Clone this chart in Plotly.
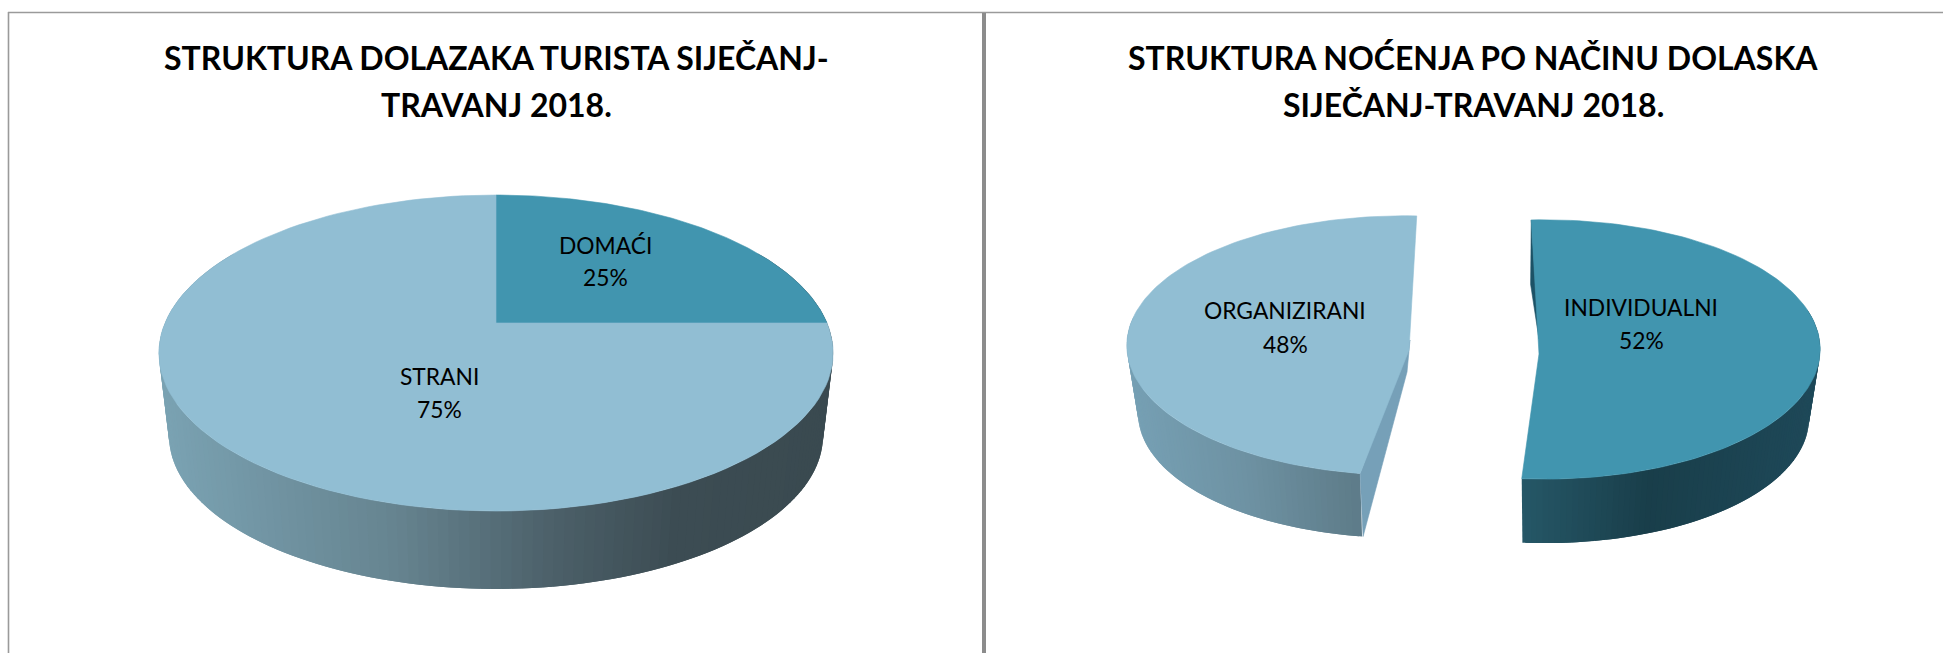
import numpy as np
import plotly.graph_objects as go

# ---- data ----
titles_left = ["STRUKTURA DOLAZAKA TURISTA SIJEČANJ-", "TRAVANJ 2018."]
labels_left = ["DOMAĆI", "STRANI"]
values_left = [25, 75]

titles_right = ["STRUKTURA NOĆENJA PO NAČINU DOLASKA", "SIJEČANJ-TRAVANJ 2018."]
labels_right = ["ORGANIZIRANI", "INDIVIDUALNI"]
values_right = [48, 52]

# ---- style ----
W, H = 1943, 653
LIGHT = "rgb(145,190,211)"
DARK = "rgb(65,149,175)"
FONT = "Lato"
TITLE_SIZE = 32
LABEL_SIZE = 22.8
GREY = "#9a9a9a"

# perspective geometry of the drawn disc: centre, half axes, perspective, wall
GEOM_L = dict(cx=496, cy=323, A=331, B=152.3, k=0.19, f=0.97, d=83.6, bend=0)
GEOM_RL = dict(cx=1409, cy=350, A=282, B=129.5, k=-0.035, f=0.96, d=68, bend=-4)
GEOM_RR = dict(cx=1539, cy=354, A=281, B=129.5, k=-0.035, f=0.96, d=69, bend=5)

WALL_L = [(0.0, (122, 162, 178)), (0.35, (102, 132, 144)), (0.6, (75, 95, 104)), (0.78, (60, 76, 83)), (1.0, (58, 74, 80))]
WALL_RL = [(0.0, (118, 160, 180)), (0.5, (110, 146, 163)), (1.0, (93, 123, 136))]
WALL_RR = [(0.0, (38, 88, 104)), (0.45, (25, 62, 74)), (1.0, (30, 72, 88))]


def top(g, theta, r=1.0):
    t = np.radians(theta)
    u, v = r * np.sin(t), r * np.cos(t)
    den = 1 + g["k"] * v
    return g["cx"] + g["A"] * u / den + g["bend"] * v ** 2, g["cy"] - g["B"] * v / den


def bottom(g, theta, r=1.0):
    x, y = top(g, theta, r)
    return g["cx"] + g["f"] * (x - g["cx"]), g["cy"] + g["d"] + g["f"] * (y - g["cy"])


def ramp(stops, p):
    p = float(np.clip(p, 0, 1))
    for (a, ca), (b, cb) in zip(stops, stops[1:]):
        if p <= b:
            w = (p - a) / (b - a)
            return "rgb(%d,%d,%d)" % tuple(round(x + (y - x) * w) for x, y in zip(ca, cb))
    return "rgb(%d,%d,%d)" % stops[-1][1]


fig = go.Figure()


def poly(xs, ys, color, name=None, lw=0.6):
    xs, ys = list(xs), list(ys)
    fig.add_trace(go.Scatter(
        x=xs + xs[:1], y=ys + ys[:1], mode="lines", fill="toself",
        fillcolor=color, line=dict(color=color, width=lw),
        hoverinfo="skip" if name is None else "text", text=name, showlegend=False))


def wall(g, a0, a1, stops, xlo, xhi, n):
    # strips overlap their neighbour so no seam shows between them
    edges = np.linspace(a0, a1, n + 1)
    step = (a1 - a0) / n
    order = sorted(zip(edges, edges[1:]), key=lambda e: top(g, (e[0] + e[1]) / 2)[0])
    for a, b in order:
        a2, b2 = a - step * 0.5, b + step * 0.5
        a2, b2 = max(a2, min(a0, a1)), min(b2, max(a0, a1))
        ax, ay = top(g, a2)
        bx, by = top(g, b2)
        cx, cy = bottom(g, b2)
        dx, dy = bottom(g, a2)
        mid = (top(g, a)[0] + top(g, b)[0]) / 2
        poly([ax, bx, cx, dx], [ay, by, cy, dy], ramp(stops, (mid - xlo) / (xhi - xlo)), lw=0)


def face(g, a0, a1, color, name):
    th = np.linspace(a0, a1, 121)
    px, py = top(g, th)
    poly([g["cx"]] + list(px), [g["cy"]] + list(py), color, name)


# ---- left pie: one whole disc ----
sweep = [v / sum(values_left) * 360 for v in values_left]
wall(GEOM_L, 60, 300, WALL_L, 165, 830, 160)
face(GEOM_L, 0, sweep[0], DARK, labels_left[0])
face(GEOM_L, sweep[0], sweep[0] + sweep[1], LIGHT, labels_left[1])

# ---- right pie: two slices pulled apart ----
sw = [v / sum(values_right) * 360 for v in values_right]
START_ORG = 189.5
START_IND = -2.5

# organised slice
g = GEOM_RL
end_org = START_ORG + sw[0]
wall(g, START_ORG, 285, WALL_RL, 1127, 1364, 70)
ax, ay = top(g, START_ORG)
bx, by = bottom(g, START_ORG)
poly([g["cx"] + 1, ax, bx + 1, g["cx"] - 2], [g["cy"] - 10, ay, by, g["cy"] + 22], "rgb(118,160,184)")
face(g, START_ORG, end_org, LIGHT, labels_right[0])

# individual slice
g = GEOM_RR
end_ind = START_IND + sw[1]
fx, fy = top(g, START_IND)
bx, by = bottom(g, START_IND)
poly([fx, bx - 1, g["cx"]], [fy, by - 10, g["cy"] - 15], "rgb(28,82,102)")
wall(g, 70, end_ind, WALL_RR, 1520, 1815, 90)
face(g, START_IND, end_ind, DARK, labels_right[1])

# ---- frame ----
layout_shapes = [
    dict(type="line", xref="x", yref="y", x0=8, x1=W, y0=12.5, y1=12.5, line=dict(color=GREY, width=1.6)),
    dict(type="line", xref="x", yref="y", x0=8.5, x1=8.5, y0=12, y1=H, line=dict(color=GREY, width=1.6)),
    dict(type="line", xref="x", yref="y", x0=984, x1=984, y0=13, y1=H, line=dict(color="#8c8c8c", width=4)),
]


def note(x, y, text, size, bold=False):
    return dict(x=x, y=y, xref="x", yref="y", text="<b>%s</b>" % text if bold else text, showarrow=False,
                xanchor="center", yanchor="middle",
                font=dict(family=FONT, size=size, color="#000000"))


notes = [
    note(496, 57, titles_left[0], TITLE_SIZE, True),
    note(496, 104, titles_left[1], TITLE_SIZE, True),
    note(1473, 57, titles_right[0], TITLE_SIZE, True),
    note(1473, 104, titles_right[1], TITLE_SIZE, True),
    note(605, 245, labels_left[0], LABEL_SIZE),
    note(605, 277, "%d%%" % values_left[0], LABEL_SIZE),
    note(439, 376, labels_left[1], LABEL_SIZE),
    note(439, 409, "%d%%" % values_left[1], LABEL_SIZE),
    note(1285, 310, labels_right[0], LABEL_SIZE),
    note(1285, 344, "%d%%" % values_right[0], LABEL_SIZE),
    note(1641, 307, labels_right[1], LABEL_SIZE),
    note(1641, 340, "%d%%" % values_right[1], LABEL_SIZE),
]

fig.update_layout(
    width=W, height=H, margin=dict(l=0, r=0, t=0, b=0),
    paper_bgcolor="white", plot_bgcolor="white", showlegend=False,
    xaxis=dict(range=[0, W], visible=False, fixedrange=True),
    yaxis=dict(range=[H, 0], visible=False, fixedrange=True),
    shapes=layout_shapes, annotations=notes,
)
fig.write_html("out.html", config=dict(displayModeBar=False),
               post_script="document.body.style.margin='0';document.body.style.overflow='hidden';")
